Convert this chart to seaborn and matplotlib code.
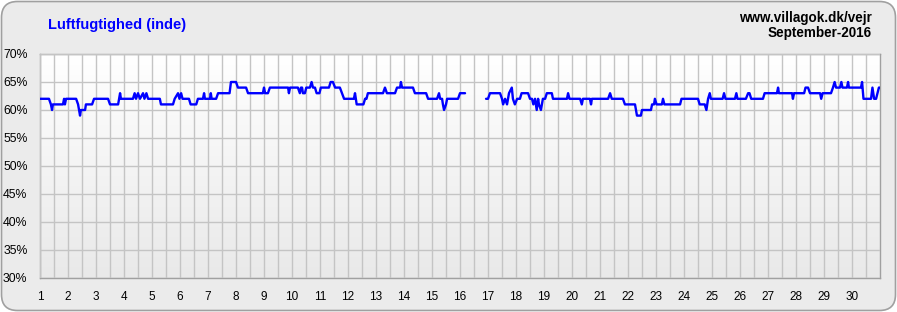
import numpy as np
import pandas as pd
import matplotlib
matplotlib.use("Agg")
import matplotlib.pyplot as plt
from matplotlib.patches import FancyBboxPatch
from matplotlib.colors import LinearSegmentedColormap
import seaborn as sns

# ---- data (day of month, indoor humidity %) ----
days_part1 = [1.00, 1.32, 1.39, 1.43, 1.46, 1.82, 1.86, 1.89, 1.93, 2.29, 2.36, 2.43, 2.46, 2.61, 2.64,
              2.86, 2.93, 3.43, 3.50, 3.79, 3.86, 3.89, 4.32, 4.38, 4.43, 4.50, 4.57, 4.68, 4.73, 4.80,
              4.86, 5.28, 5.32, 5.75, 5.81, 5.93, 5.98, 6.04, 6.09, 6.32, 6.38, 6.58, 6.64, 6.82, 6.86,
              6.89, 7.07, 7.10, 7.13, 7.29, 7.36, 7.77, 7.82, 8.00, 8.07, 8.36, 8.43, 8.96, 9.00, 9.04,
              9.14, 9.21, 9.86, 9.89, 9.93, 10.21, 10.28, 10.32, 10.36, 10.39, 10.46, 10.51, 10.64, 10.70,
              10.75, 10.82, 10.88, 10.98, 11.03, 11.32, 11.38, 11.46, 11.54, 11.71, 11.86, 12.21, 12.25,
              12.31, 12.55, 12.61, 12.66, 12.71, 13.25, 13.32, 13.39, 13.68, 13.75, 13.86, 13.89, 13.93,
              14.32, 14.39, 14.79, 14.86, 15.18, 15.25, 15.29, 15.36, 15.39, 15.43, 15.50, 15.54, 15.93,
              16.00, 16.18]
hum_part1 = [62, 62, 61, 60, 61, 61, 62, 61, 62, 62, 61, 59, 60, 60, 61,
             61, 62, 62, 61, 61, 63, 62, 62, 63, 62, 63, 62, 63, 62, 63,
             62, 62, 61, 61, 62, 63, 62, 63, 62, 62, 61, 61, 62, 62, 63,
             62, 62, 63, 62, 62, 63, 63, 65, 65, 64, 64, 63, 63, 64, 63,
             63, 64, 64, 63, 64, 64, 63, 64, 64, 63, 63, 64, 64, 65,
             64, 64, 63, 63, 64, 64, 65, 65, 64, 64, 62, 62, 63,
             61, 61, 62, 62, 63, 63, 64, 63, 63, 64, 64, 65, 64,
             64, 63, 63, 62, 62, 63, 62, 62, 61, 60, 61, 62, 62,
             63, 63]

days_part2 = [16.93, 17.00, 17.07, 17.43, 17.50, 17.54, 17.61, 17.68, 17.75, 17.85, 17.89, 17.96, 18.04,
              18.14, 18.20, 18.43, 18.50, 18.57, 18.62, 18.68, 18.74, 18.79, 18.82, 18.89, 18.96, 19.04,
              19.10, 19.28, 19.32, 19.82, 19.86, 19.91, 20.29, 20.35, 20.39, 20.64, 20.68, 20.71, 21.29,
              21.36, 21.42, 21.82, 21.89, 22.25, 22.32, 22.46, 22.50, 22.82, 22.86, 22.93, 22.96, 23.02,
              23.21, 23.25, 23.30, 23.86, 23.91, 24.50, 24.56, 24.74, 24.80, 24.86, 24.92, 24.96, 25.38,
              25.43, 25.48, 25.82, 25.87, 25.91, 26.21, 26.29, 26.34, 26.40, 26.82, 26.88, 27.32, 27.36,
              27.39, 27.86, 27.89, 27.93, 28.29, 28.34, 28.43, 28.50, 28.86, 28.90, 28.95, 29.25, 29.32,
              29.38, 29.43, 29.57, 29.62, 29.66, 29.82, 29.86, 29.89, 30.32, 30.36, 30.41, 30.68, 30.73,
              30.79, 30.86, 30.96, 31.00]
hum_part2 = [62, 62, 63, 63, 62, 61, 62, 61, 63, 64, 62, 61, 62,
             62, 63, 63, 62, 62, 61, 62, 60, 62, 61, 60, 62, 62,
             63, 63, 62, 62, 63, 62, 62, 61, 62, 62, 61, 62, 62,
             63, 62, 62, 61, 61, 59, 59, 60, 60, 61, 61, 62, 61,
             61, 62, 61, 61, 62, 62, 61, 61, 60, 62, 63, 62, 62,
             63, 62, 62, 63, 62, 62, 63, 63, 62, 62, 63, 63, 64,
             63, 63, 62, 63, 63, 64, 64, 63, 63, 62, 63, 63, 64,
             65, 64, 64, 65, 64, 64, 65, 64, 64, 65, 62, 62, 64,
             62, 62, 64, 64]

day_ticks = list(range(1, 31))
pct_ticks = [30, 35, 40, 45, 50, 55, 60, 65, 70]

title = "Luftfugtighed (inde)"
site = "www.villagok.dk/vejr"
period = "September-2016"

df = pd.concat([
    pd.DataFrame({"day": days_part1, "hum": hum_part1, "seg": 1}),
    pd.DataFrame({"day": days_part2, "hum": hum_part2, "seg": 2}),
], ignore_index=True)

# ---- styling ----
sns.set_style("white")
plt.rcParams["font.family"] = ["Liberation Sans", "DejaVu Sans"]

W, H = 897, 312
fig = plt.figure(figsize=(W / 100, H / 100), dpi=100, facecolor="white")

# background panel with rounded corners (pixel coordinates)
bgax = fig.add_axes([0, 0, 1, 1], zorder=-5)
bgax.set_xlim(0, W)
bgax.set_ylim(0, H)
bgax.axis("off")
bgax.add_patch(FancyBboxPatch((1.5, 1.5), W - 3, H - 3,
                              boxstyle="round,pad=0,rounding_size=16",
                              facecolor="#ebebeb", edgecolor="#a0a0a0",
                              linewidth=1.2))

ax = fig.add_axes([40 / W, 34 / H, 840 / W, 224 / H], zorder=1)
ax.set_facecolor("white")

cmap = LinearSegmentedColormap.from_list("grad", ["#e9e9e9", "#ffffff"])
ax.imshow(np.linspace(0, 1, 256).reshape(-1, 1), cmap=cmap, origin="lower",
          extent=(1, 31, 30, 70), aspect="auto", zorder=0)

sns.lineplot(data=df, x="day", y="hum", units="seg", estimator=None,
             color="#0000ff", linewidth=1.7, ax=ax, zorder=3, legend=False)

ax.set_xlim(1, 31)
ax.set_ylim(30, 70)
ax.set_xticks(day_ticks)
ax.set_xticklabels([str(d) for d in day_ticks], fontsize=8.5)
ax.set_xticks(np.arange(1.5, 31, 1.0), minor=True)
ax.set_yticks(pct_ticks)
ax.set_yticklabels([f"{p}%" for p in pct_ticks], fontsize=8.8)
ax.tick_params(axis="both", which="both", length=0)
ax.tick_params(axis="x", pad=9, colors="#000000")
ax.tick_params(axis="y", pad=9, colors="#000000")
ax.grid(True, which="both", axis="x", color="#c4c4c4", linewidth=1.0, zorder=1)
ax.grid(True, which="major", axis="y", color="#c4c4c4", linewidth=1.0, zorder=1)
ax.set_axisbelow(False)
for s in ax.spines.values():
    s.set_visible(True)
    s.set_color("#a0a0a0")
    s.set_linewidth(1.0)
ax.set_xlabel("")
ax.set_ylabel("")

fig.text(48 / W, 1 - 25 / H, title, color="#0000ff", fontsize=10.5,
         fontweight="bold", ha="left", va="center")
fig.text(872 / W, 1 - 18 / H, site, color="#000000", fontsize=9.75,
         fontweight="bold", ha="right", va="center")
fig.text(872 / W, 1 - 33 / H, period, color="#000000", fontsize=9.75,
         fontweight="bold", ha="right", va="center")

fig.savefig("out.png", dpi=100, facecolor=fig.get_facecolor())
